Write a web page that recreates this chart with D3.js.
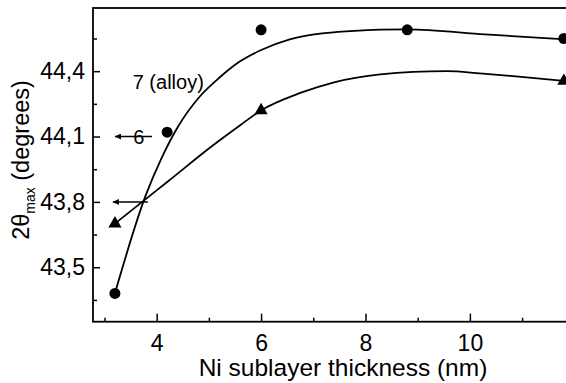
<!DOCTYPE html>
<html>
<head>
<meta charset="utf-8">
<script src="https://cdn.jsdelivr.net/npm/d3@7"></script>
<style>
  html, body { margin: 0; padding: 0; background: #fff; }
  svg { display: block; font-family: "Liberation Sans", Arial, Helvetica, sans-serif; }
</style>
</head>
<body>
<svg id="chart" width="566" height="383"></svg>
<script>
// Measured peak positions (symbols)
const alloyX = [3.2, 4.2, 6.0, 8.8, 11.8];
const alloyY = [43.38, 44.12, 44.59, 44.59, 44.55];
const sampleX = [3.2, 6.0, 11.8];
const sampleY = [43.70, 44.22, 44.355];

// Guide-to-the-eye curves drawn through the data
const alloyFitX = [3.2, 3.795, 4.08, 4.41, 4.83, 5.21, 5.59, 5.98, 6.55, 7.13, 7.70, 8.28, 8.8, 10.29, 11.8];
const alloyFitY = [43.38, 43.833, 43.994, 44.146, 44.285, 44.372, 44.444, 44.495, 44.546, 44.572, 44.584, 44.591, 44.592, 44.569, 44.546];
const sampleFitX = [3.2, 3.795, 4.22, 5.08, 5.60, 6.0, 6.75, 7.38, 8.28, 8.91, 9.56, 10.19, 10.83, 11.8];
const sampleFitY = [43.70, 43.814, 43.895, 44.06, 44.152, 44.22, 44.30, 44.348, 44.385, 44.397, 44.40, 44.39, 44.377, 44.355];

// Axis ticks
const xMajorTicks = [4, 6, 8, 10];
const xMinorTicks = [3, 5, 7, 9, 11];
const yMajorTicks = [43.5, 43.8, 44.1, 44.4];
const yMinorTicks = [43.35, 43.65, 43.95, 44.25, 44.55];

// Reference arrows pointing at the axis
const arrowY = [44.1, 43.8];
const arrowFromX = [3.91, 3.83];
const arrowToX = [3.2, 3.16];

const svg = d3.select("#chart");
const plotLeft = 93, plotTop = 8, plotBottom = 321.7;

const x = d3.scaleLinear().domain([2.78, 12.2]).range([plotLeft, plotLeft + 9.42 * 52.2]);
const y = d3.scaleLinear().domain([43.25, 44.69]).range([plotBottom, plotTop]);

const comma = d => d3.format(".1f")(d).replace(".", ",");

svg.append("defs").append("marker")
  .attr("id", "ahead")
  .attr("viewBox", "0 0 10 10")
  .attr("refX", 10).attr("refY", 5)
  .attr("markerWidth", 8).attr("markerHeight", 6)
  .attr("markerUnits", "userSpaceOnUse")
  .attr("orient", "auto")
  .append("path").attr("d", "M0,0 L10,5 L0,10 Z").attr("fill", "#000");

// Frame
svg.append("rect")
  .attr("x", x.range()[0]).attr("y", plotTop)
  .attr("width", x.range()[1] - x.range()[0]).attr("height", plotBottom - plotTop)
  .attr("fill", "none").attr("stroke", "#000").attr("stroke-width", 1.8);

// Inward ticks
const xAxis = svg.append("g").attr("transform", `translate(0,${plotBottom})`)
  .call(d3.axisBottom(x).tickValues(xMajorTicks).tickSizeInner(-8).tickSizeOuter(0).tickPadding(13).tickFormat(d3.format("d")));
const xMinor = svg.append("g").attr("transform", `translate(0,${plotBottom})`)
  .call(d3.axisBottom(x).tickValues(xMinorTicks).tickSizeInner(-4).tickSizeOuter(0).tickFormat(""));
const yAxis = svg.append("g").attr("transform", `translate(${plotLeft},0)`)
  .call(d3.axisLeft(y).tickValues(yMajorTicks).tickSizeInner(-7).tickSizeOuter(0).tickPadding(8).tickFormat(comma));
const yMinor = svg.append("g").attr("transform", `translate(${plotLeft},0)`)
  .call(d3.axisLeft(y).tickValues(yMinorTicks).tickSizeInner(-4).tickSizeOuter(0).tickFormat(""));

[xAxis, xMinor, yAxis, yMinor].forEach(g => {
  g.select(".domain").remove();
  g.selectAll("line").attr("stroke", "#000").attr("stroke-width", 1.5);
  g.selectAll("text").attr("fill", "#000").attr("font-size", 23)
    .attr("font-family", "Liberation Sans, Arial, sans-serif");
});

// Axis titles
svg.append("text")
  .attr("x", 343).attr("y", 376)
  .attr("text-anchor", "middle").attr("font-size", 24.5).attr("fill", "#000")
  .text("Ni sublayer thickness (nm)");

const yt = svg.append("text")
  .attr("transform", "translate(29,160) rotate(-90)")
  .attr("text-anchor", "middle").attr("font-size", 23.5).attr("fill", "#000");
yt.append("tspan").text("2θ");
yt.append("tspan").attr("font-size", 14).attr("dy", 6).text("max");
yt.append("tspan").attr("dy", -6).text(" (degrees)");

// Curves
const line = d3.line().x(d => x(d[0])).y(d => y(d[1])).curve(d3.curveMonotoneX);
const curves = svg.append("g").attr("fill", "none").attr("stroke", "#000").attr("stroke-width", 1.8);
curves.append("path").attr("d", line(d3.zip(alloyFitX, alloyFitY)));
curves.append("path").attr("d", line(d3.zip(sampleFitX, sampleFitY)));

// Symbols
svg.append("g").selectAll("circle")
  .data(d3.zip(alloyX, alloyY)).join("circle")
  .attr("cx", d => x(d[0])).attr("cy", d => y(d[1])).attr("r", 5.5).attr("fill", "#000");

const tri = d3.symbol().type(d3.symbolTriangle).size(75);
svg.append("g").selectAll("path")
  .data(d3.zip(sampleX, sampleY)).join("path")
  .attr("transform", d => `translate(${x(d[0])},${y(d[1])})`)
  .attr("d", tri).attr("fill", "#000");

// Arrows and labels
svg.append("g").selectAll("line")
  .data(d3.range(arrowY.length)).join("line")
  .attr("x1", i => x(arrowFromX[i])).attr("x2", i => x(arrowToX[i]))
  .attr("y1", i => y(arrowY[i])).attr("y2", i => y(arrowY[i]))
  .attr("stroke", "#000").attr("stroke-width", 1.5)
  .attr("marker-end", "url(#ahead)");

svg.append("text")
  .attr("x", x(3.66)).attr("y", y(44.1)).attr("dy", "0.36em")
  .attr("text-anchor", "middle").attr("font-size", 20).attr("fill", "#000")
  .text("6");

svg.append("text")
  .attr("x", x(3.54)).attr("y", y(44.32))
  .attr("font-size", 20).attr("fill", "#000")
  .text("7 (alloy)");
</script>
</body>
</html>
